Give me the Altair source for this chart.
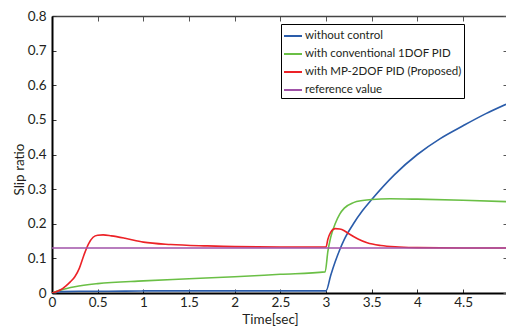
import altair as alt
import pandas as pd

series_names = ["without control", "with conventional 1DOF PID",
                "with MP-2DOF PID (Proposed)", "reference value"]
colors = ["#2a5caa", "#6abf45", "#ec2227", "#a052a8"]

t_blue = [0, 0.1, 0.3, 0.6, 1.0, 2.0, 3.0, 3.05, 3.1, 3.15, 3.2, 3.3, 3.4, 3.5,
          3.75, 4.0, 4.25, 4.5, 4.75, 4.97]
y_blue = [0, 0.004, 0.005, 0.005, 0.006, 0.006, 0.006, 0.05, 0.09, 0.125, 0.155,
          0.2, 0.238, 0.27, 0.342, 0.40, 0.446, 0.483, 0.518, 0.545]

t_green = [0, 0.1, 0.25, 0.5, 1.0, 1.5, 2.0, 2.5, 2.99, 3.02, 3.05, 3.1, 3.15,
           3.2, 3.3, 3.4, 3.5, 3.7, 4.0, 4.5, 4.97]
y_green = [0, 0.009, 0.018, 0.027, 0.035, 0.041, 0.047, 0.054, 0.061, 0.12, 0.16,
           0.2, 0.228, 0.245, 0.261, 0.267, 0.270, 0.272, 0.271, 0.268, 0.264]

t_red = [0, 0.1, 0.15, 0.2, 0.25, 0.3, 0.35, 0.4, 0.45, 0.5, 0.56, 0.65, 0.8,
         1.0, 1.3, 1.7, 2.0, 2.5, 3.0, 3.02, 3.05, 3.1, 3.15, 3.2, 3.25, 3.35,
         3.45, 3.6, 3.8, 4.0, 4.5, 4.97]
y_red = [0, 0.01, 0.02, 0.032, 0.047, 0.072, 0.11, 0.142, 0.161, 0.167, 0.168,
         0.165, 0.158, 0.147, 0.140, 0.136, 0.134, 0.133, 0.133, 0.155, 0.175,
         0.186, 0.185, 0.18, 0.171, 0.156, 0.145, 0.137, 0.133, 0.131, 0.130, 0.130]

t_ref = [0, 4.97]
y_ref = [0.13, 0.13]

x_ticks = [0, 0.5, 1, 1.5, 2, 2.5, 3, 3.5, 4, 4.5]
y_ticks = [0, 0.1, 0.2, 0.3, 0.4, 0.5, 0.6, 0.7, 0.8]

rows = []
for name, ts, vs in zip(series_names, [t_blue, t_green, t_red, t_ref],
                        [y_blue, y_green, y_red, y_ref]):
    for t, v in zip(ts, vs):
        rows.append({"series": name, "t": t, "y": v})
df = pd.DataFrame(rows)

W, H = 454, 277
FONT = "Lato"
TXT = "#231f20"
FS = 13.5

xs = alt.Scale(domain=[0, 4.97], nice=False, zero=False)
ys = alt.Scale(domain=[0, 0.8], nice=False, zero=False)

lines = alt.Chart(df).mark_line(clip=True, strokeWidth=1.6, interpolate="monotone").encode(
    x=alt.X("t:Q", scale=xs, title="Time[sec]",
            axis=alt.Axis(orient="bottom", values=x_ticks, ticks=False, tickSize=0,
                          domain=True, domainColor="black", domainWidth=2, grid=False,
                          labelFont=FONT, labelFontSize=FS, labelColor=TXT,
                          labelPadding=2, labelExpr="'' + datum.value",
                          labelFlush=False, labelOverlap=False,
                          titleFont=FONT, titleFontSize=FS, titleFontWeight="normal",
                          titleColor=TXT, titleX=218, titleY=19)),
    y=alt.Y("y:Q", scale=ys, title="Slip ratio",
            axis=alt.Axis(orient="left", values=y_ticks, ticks=False, tickSize=0,
                          domain=True, domainColor="black", domainWidth=2, grid=False,
                          labelFont=FONT, labelFontSize=FS, labelColor=TXT,
                          labelPadding=6, labelExpr="'' + datum.value",
                          labelFlush=False, labelOverlap=False,
                          titleFont=FONT, titleFontSize=FS, titleFontWeight="normal",
                          titleColor=TXT, titleX=-26, titleY=153)),
    color=alt.Color("series:N",
                    scale=alt.Scale(domain=series_names, range=colors),
                    legend=alt.Legend(orient="none", legendX=229, legendY=8, title=None,
                                      symbolType="stroke", symbolSize=324,
                                      symbolStrokeWidth=2, labelFont=FONT,
                                      labelFontSize=11.5, labelColor=TXT, labelOffset=2,
                                      padding=2, rowPadding=2, strokeColor="black",
                                      fillColor="white", direction="vertical",
                                      labelLimit=300)),
)

inner_a = alt.Chart(df).mark_point(opacity=0).encode(
    x=alt.X("t:Q", scale=xs, title=None,
            axis=alt.Axis(orient="top", offset=-H, values=x_ticks, labels=False,
                          domain=False, ticks=True, tickSize=4, tickColor="#333333",
                          tickWidth=1, grid=False)),
    y=alt.Y("y:Q", scale=ys, title=None,
            axis=alt.Axis(orient="right", offset=-W, values=y_ticks, labels=False,
                          domain=False, ticks=True, tickSize=4, tickColor="#333333",
                          tickWidth=1, grid=False)),
)

inner_b = alt.Chart(df).mark_point(opacity=0).encode(
    x=alt.X("t:Q", scale=xs, title=None,
            axis=alt.Axis(orient="bottom", offset=-H, values=x_ticks, labels=False,
                          domain=True, domainColor="#444444", domainWidth=1.5,
                          ticks=True, tickSize=5, tickColor="#555555",
                          tickWidth=1, grid=False)),
    y=alt.Y("y:Q", scale=ys, title=None,
            axis=alt.Axis(orient="left", offset=-W, values=y_ticks, labels=False,
                          domain=False, ticks=True, tickSize=3, tickColor="#555555",
                          tickWidth=1, grid=False)),
)

chart = alt.layer(inner_a, inner_b, lines).resolve_axis(
    x="independent", y="independent"
).properties(
    width=W, height=H,
    padding={"left": 52, "top": 16, "right": 0, "bottom": 34},
    autosize=alt.AutoSizeParams(type="none"),
    background="white",
).configure_view(strokeWidth=0)

chart.save("out.html", embed_options={"renderer": "svg", "actions": False})
